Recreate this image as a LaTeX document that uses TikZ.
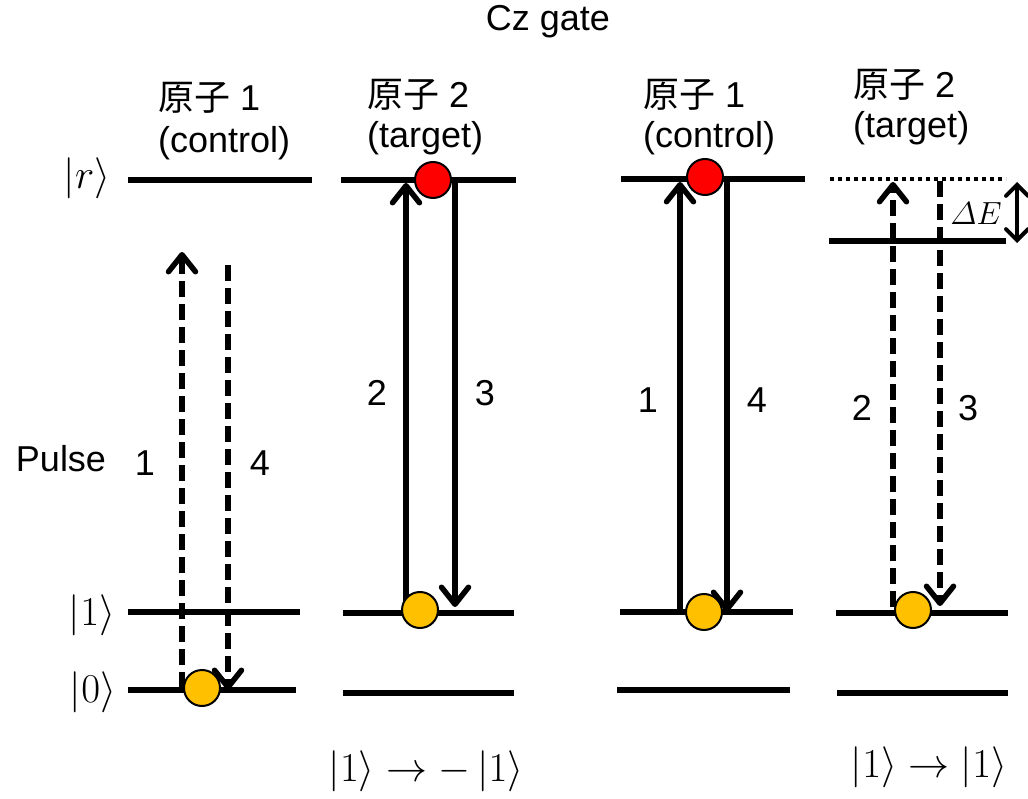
\RequirePackage{fix-cm}
\documentclass[tikz,border=0pt]{standalone}
\usepackage{fontspec}
\setmainfont{Liberation Sans}
\newfontfamily\cjk{Noto Sans CJK SC}
\usetikzlibrary{arrows.meta}
\begin{document}
\begin{tikzpicture}[x=1pt,y=-1pt,
  lvl/.style={line width=6pt},
  dotlvl/.style={line width=4pt,dash pattern=on 4pt off 4pt},
  tr/.style={line width=5.5pt,-{Straight Barb[length=17pt,width=27pt,line cap=round,line join=round]}},
  dtr/.style={tr,dash pattern=on 16pt off 7pt},
  ball/.style={circle,draw=black,line width=2pt,minimum size=36pt,inner sep=0pt},
  lbl/.style={font=\fontsize{36}{40}\selectfont,inner sep=0pt},
  hd/.style={lbl,anchor=west},
  ket/.style={font=\fontsize{41}{45}\selectfont,inner sep=0pt}]
\useasboundingbox (0,0) rectangle (1028,799);
\node[lbl] (title) at (548,22) {Cz gate};
% column headers
\node[hd] (h1a) at (158,98) {{\cjk 原子} 1};
\node[hd] (h1b) at (158,143) {(control)};
\node[hd] (h2a) at (367,95) {{\cjk 原子} 2};
\node[hd] (h2b) at (367,138) {(target)};
\node[hd] (h3a) at (643,95) {{\cjk 原子} 1};
\node[hd] (h3b) at (643,138) {(control)};
\node[hd] (h4a) at (853,85) {{\cjk 原子} 2};
\node[hd] (h4b) at (853,128) {(target)};
% state labels
\node[ket] (kr) at (87,178) {$\left|r\right\rangle$};
\node[ket] (k1) at (92,615) {$\left|1\right\rangle$};
\node[ket] (k0) at (93,692) {$\left|0\right\rangle$};
\node[lbl] (pulse) at (61,459) {Pulse};
% levels column 1
\coordinate (r1a) at (128,180); \coordinate (r1b) at (312,180);
\coordinate (o1a) at (128,612); \coordinate (o1b) at (300,612);
\coordinate (z1a) at (128,690); \coordinate (z1b) at (296,690);
\draw[lvl] (r1a) -- (r1b); \draw[lvl] (o1a) -- (o1b); \draw[lvl] (z1a) -- (z1b);
% column 2
\coordinate (r2a) at (341,180); \coordinate (r2b) at (516,180);
\coordinate (o2a) at (343,613); \coordinate (o2b) at (514,613);
\coordinate (z2a) at (343,693); \coordinate (z2b) at (514,693);
\draw[lvl] (r2a) -- (r2b); \draw[lvl] (o2a) -- (o2b); \draw[lvl] (z2a) -- (z2b);
% column 3
\coordinate (r3a) at (621,179); \coordinate (r3b) at (805,179);
\coordinate (o3a) at (620,612); \coordinate (o3b) at (793,612);
\coordinate (z3a) at (617,690); \coordinate (z3b) at (790,690);
\draw[lvl] (r3a) -- (r3b); \draw[lvl] (o3a) -- (o3b); \draw[lvl] (z3a) -- (z3b);
% column 4
\coordinate (r4a) at (830,179); \coordinate (r4b) at (1006,179);
\coordinate (s4a) at (829,241); \coordinate (s4b) at (1006,241);
\coordinate (o4a) at (836,613); \coordinate (o4b) at (1008,613);
\coordinate (z4a) at (837,693); \coordinate (z4b) at (1008,693);
\draw[dotlvl] (r4a) -- (r4b); \draw[lvl] (s4a) -- (s4b);
\draw[lvl] (o4a) -- (o4b); \draw[lvl] (z4a) -- (z4b);
% Delta E
\coordinate (de1) at (1017,182); \coordinate (de2) at (1017,243);
\draw[line width=4pt,{Straight Barb[length=11pt,width=22pt,line cap=round]}-{Straight Barb[length=11pt,width=22pt,line cap=round]}] (de1) -- (de2);
\node[font=\fontsize{32}{36}\selectfont,inner sep=0pt] (dE) at (976,214) {$\mathnormal{\Delta}E$};
% transitions column 1
\coordinate (a1s) at (182,688); \coordinate (a1e) at (182,252);
\coordinate (b1s) at (228,265); \coordinate (b1e) at (228,690);
\draw[dtr] (a1s) -- (a1e); \draw[dtr] (b1s) -- (b1e);
\node[lbl] (n1) at (145,463) {1};
\node[lbl] (n4) at (260,463) {4};
% column 2
\coordinate (a2s) at (406,613); \coordinate (a2e) at (406,183);
\coordinate (b2s) at (455,182); \coordinate (b2e) at (455,607);
\draw[tr] (a2s) -- (a2e); \draw[tr] (b2s) -- (b2e);
\node[lbl] (n2) at (377,393) {2};
\node[lbl] (n3) at (485,393) {3};
% column 3
\coordinate (a3s) at (680,612); \coordinate (a3e) at (680,182);
\coordinate (b3s) at (727,182); \coordinate (b3e) at (727,612);
\draw[tr] (a3s) -- (a3e); \draw[tr] (b3s) -- (b3e);
\node[lbl] (m1) at (648,400) {1};
\node[lbl] (m4) at (757,400) {4};
% column 4
\coordinate (a4s) at (893,607); \coordinate (a4e) at (893,182);
\coordinate (b4s) at (940,181); \coordinate (b4e) at (940,606);
\draw[dtr] (a4s) -- (a4e); \draw[dtr] (b4s) -- (b4e);
\node[lbl] (p2) at (862,408) {2};
\node[lbl] (p3) at (968,408) {3};
% balls
\node[ball,fill=red] (rb2) at (433,180) {};
\node[ball,fill=red] (rb3) at (705,177) {};
\node[ball,fill={rgb,255:red,255;green,192;blue,0}] (ob1) at (202,688) {};
\node[ball,fill={rgb,255:red,255;green,192;blue,0}] (ob2) at (420,610) {};
\node[ball,fill={rgb,255:red,255;green,192;blue,0}] (ob3) at (704,612) {};
\node[ball,fill={rgb,255:red,255;green,192;blue,0}] (ob4) at (913,610) {};
% results
\node[ket] (res1) at (426,771) {$\left|1\right\rangle\rightarrow-\left|1\right\rangle$};
\node[ket] (res2) at (929,767) {$\left|1\right\rangle\rightarrow\left|1\right\rangle$};
\end{tikzpicture}
\end{document}
